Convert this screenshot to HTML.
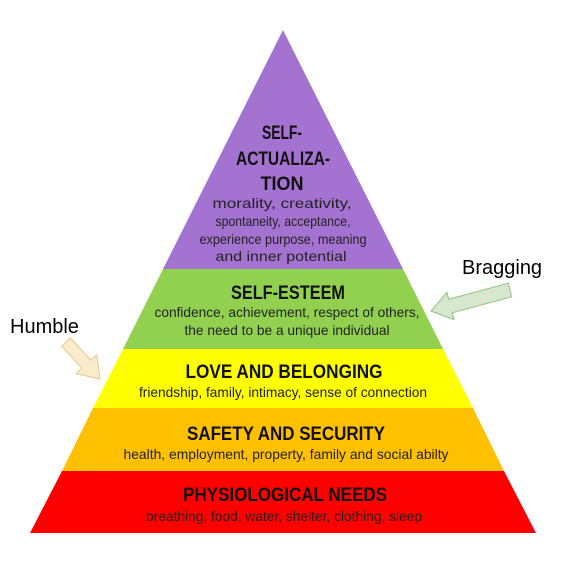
<!DOCTYPE html>
<html><head><style>body{margin:0;background:#fff}svg{display:block}</style></head>
<body>
<svg width="564" height="564" viewBox="0 0 564 564" xmlns="http://www.w3.org/2000/svg" font-family="'Liberation Sans', sans-serif">
<polygon points="283,30 163,269 403,269" fill="#A473D1"/>
<polygon points="163,269 403,269 443,349 123,349" fill="#92D050"/>
<polygon points="123,349 443,349 473,408 93,408" fill="#FFFF00"/>
<polygon points="93,408 473,408 504,471 62,471" fill="#FFC000"/>
<polygon points="62,471 504,471 536,533 30,533" fill="#FF0000"/>
<g fill="#111" text-anchor="middle" font-weight="bold" font-size="19">
<text x="282" y="139" textLength="40" lengthAdjust="spacingAndGlyphs">SELF-</text>
<text x="283" y="165" textLength="94" lengthAdjust="spacingAndGlyphs">ACTUALIZA-</text>
<text x="282" y="190" textLength="43" lengthAdjust="spacingAndGlyphs">TION</text>
<text x="288" y="299" textLength="114" lengthAdjust="spacingAndGlyphs">SELF-ESTEEM</text>
<text x="284" y="378" textLength="197" lengthAdjust="spacingAndGlyphs">LOVE AND BELONGING</text>
<text x="286" y="440" textLength="198" lengthAdjust="spacingAndGlyphs">SAFETY AND SECURITY</text>
<text x="285" y="501" textLength="204" lengthAdjust="spacingAndGlyphs">PHYSIOLOGICAL NEEDS</text>
</g>
<g fill="#222" text-anchor="middle" font-size="14">
<text x="282" y="208" textLength="139" lengthAdjust="spacingAndGlyphs">morality, creativity,</text>
<text x="283" y="226" textLength="135" lengthAdjust="spacingAndGlyphs">spontaneity, acceptance,</text>
<text x="283" y="244" textLength="167" lengthAdjust="spacingAndGlyphs">experience purpose, meaning</text>
<text x="281" y="261" textLength="131" lengthAdjust="spacingAndGlyphs">and inner potential</text>
<text x="287" y="317" textLength="265" lengthAdjust="spacingAndGlyphs">confidence, achievement, respect of others,</text>
<text x="287" y="335" textLength="205" lengthAdjust="spacingAndGlyphs">the need to be a unique individual</text>
<text x="283" y="397" textLength="288" lengthAdjust="spacingAndGlyphs">friendship, family, intimacy, sense of connection</text>
<text x="286" y="459" textLength="325" lengthAdjust="spacingAndGlyphs">health, employment, property, family and social abilty</text>
<text x="284" y="521" textLength="276" lengthAdjust="spacingAndGlyphs">breathing, food, water, shelter, clothing, sleep</text>
</g>
<text x="10" y="333" font-size="20" fill="#000">Humble</text>
<text x="462" y="274" font-size="20" fill="#000">Bragging</text>
<polygon points="70.4,337.9 90.8,360.1 96.8,354.7 100,379 76,373.7 82,368.3 61.6,346.1" fill="#FCEBCB" stroke="#E7C98A" stroke-width="1"/>
<polygon points="508.3,283.2 448.7,299.2 446.9,292.4 431,311 453.9,319.6 452.1,312.8 511.7,296.8" fill="#D7E8CF" stroke="#8CC37A" stroke-width="1"/>
</svg>
</body></html>
